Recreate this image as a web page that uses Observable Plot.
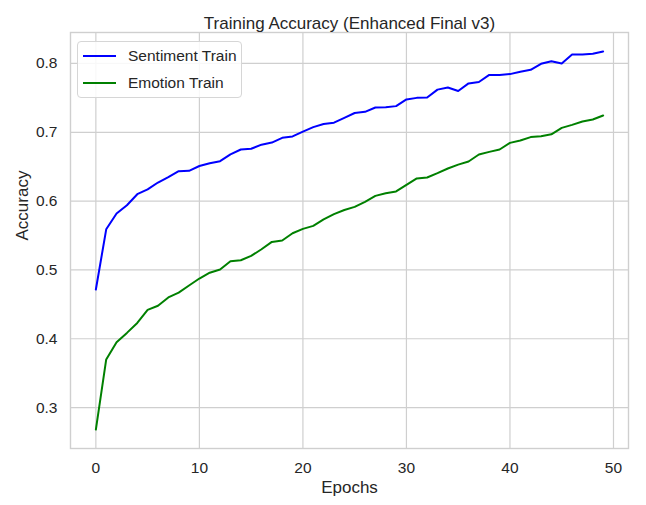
<!DOCTYPE html>
<html>
<head>
<meta charset="utf-8">
<script src="https://cdn.jsdelivr.net/npm/d3@7"></script>
<script src="https://cdn.jsdelivr.net/npm/@observablehq/plot@0.6"></script>
<style>
  html, body { margin: 0; padding: 0; background: white; }
  #wrap { position: relative; width: 646px; height: 505px; font-family: "Liberation Sans", Arial, sans-serif; }
  #legend { position: absolute; left: 77px; top: 41px; width: 165px; height: 57px;
    border: 1px solid #d6d6d6; border-radius: 4px; background: rgba(255,255,255,0.85);
    box-sizing: border-box; color: #262626; font-size: 15.5px; }
  .row { position: absolute; left: 5px; height: 20px; display: flex; align-items: center; }
  .sw { width: 33px; height: 0; border-top: 2px solid; margin-right: 12px; }
</style>
</head>
<body>
<div id="wrap"></div>
<script>
const title = "Training Accuracy (Enhanced Final v3)";
const xLabel = "Epochs";
const yLabel = "Accuracy";
const seriesNames = ["Sentiment Train", "Emotion Train"];
const seriesColors = ["#0000ff", "#008000"];
const xTicks = [0, 10, 20, 30, 40, 50];
const yTicks = [0.3, 0.4, 0.5, 0.6, 0.7, 0.8];

const sentimentTrain = [
  0.4715, 0.559, 0.582, 0.594, 0.610, 0.617, 0.627, 0.635, 0.6435, 0.644,
  0.651, 0.655, 0.658, 0.668, 0.675, 0.676, 0.682, 0.685, 0.692, 0.694,
  0.701, 0.7075, 0.712, 0.714, 0.721, 0.728, 0.7297, 0.736, 0.7365, 0.738,
  0.7477, 0.750, 0.7505, 0.762, 0.765, 0.760, 0.771, 0.773, 0.7834, 0.7834,
  0.7845, 0.788, 0.7907, 0.7995, 0.8033, 0.800, 0.813, 0.813, 0.814, 0.8175
];
const emotionTrain = [
  0.268, 0.370, 0.395, 0.4085, 0.423, 0.442, 0.448, 0.460, 0.467, 0.4773,
  0.4875, 0.496, 0.5006, 0.5127, 0.514, 0.5204, 0.530, 0.5407, 0.5427, 0.5533,
  0.5596, 0.564, 0.5733, 0.581, 0.587, 0.5916, 0.599, 0.6076, 0.6115, 0.614,
  0.6236, 0.633, 0.6343, 0.6406, 0.6474, 0.653, 0.6576, 0.6677, 0.6715, 0.675,
  0.6846, 0.688, 0.693, 0.6943, 0.697, 0.7064, 0.7108, 0.7157, 0.7186, 0.7244
];

const data = [];
sentimentTrain.forEach((v, i) => data.push({epoch: i, acc: v, series: seriesNames[0]}));
emotionTrain.forEach((v, i) => data.push({epoch: i, acc: v, series: seriesNames[1]}));

// matplotlib-like 5% margins
const xe = d3.extent(data, d => d.epoch), ye = d3.extent(data, d => d.acc);
const xm = (xe[1] - xe[0]) * 0.05, ym = (ye[1] - ye[0]) * 0.05;

const textColor = "#262626";
const chart = Plot.plot({
  width: 646, height: 505,
  marginLeft: 70, marginRight: 18, marginTop: 32, marginBottom: 57,
  style: {fontFamily: "'Liberation Sans', Arial, sans-serif", color: textColor, background: "white", overflow: "visible"},
  x: {domain: [xe[0] - xm, xe[1] + xm]},
  y: {domain: [ye[0] - ym, ye[1] + ym]},
  color: {domain: seriesNames, range: seriesColors},
  marks: [
    Plot.gridX(xTicks, {stroke: "#cfcfcf", strokeOpacity: 1, strokeWidth: 1.2}),
    Plot.gridY(yTicks, {stroke: "#cfcfcf", strokeOpacity: 1, strokeWidth: 1.2}),
    Plot.frame({stroke: "#cfcfcf", strokeWidth: 1.4}),
    Plot.axisX(xTicks, {tickSize: 0, tickPadding: 13, fontSize: 15.5, label: null, fill: textColor}),
    Plot.axisY(yTicks, {tickSize: 0, tickPadding: 13, fontSize: 15.5, label: null, tickFormat: d3.format(".1f"), fill: textColor}),
    Plot.line(data, {x: "epoch", y: "acc", z: "series", stroke: "series", strokeWidth: 2}),
    Plot.text([title], {frameAnchor: "top", dy: -16, fontSize: 17, fill: textColor}),
    Plot.text([xLabel], {frameAnchor: "bottom", dy: 44, fontSize: 17, fill: textColor}),
    Plot.text([yLabel], {frameAnchor: "left", dx: -48, rotate: -90, fontSize: 17, fill: textColor})
  ]
});
const wrap = document.getElementById("wrap");
wrap.appendChild(chart);

const legend = document.createElement("div");
legend.id = "legend";
seriesNames.forEach((name, i) => {
  const row = document.createElement("div");
  row.className = "row";
  row.style.top = (4 + i * 27) + "px";
  const sw = document.createElement("span");
  sw.className = "sw";
  sw.style.borderTopColor = seriesColors[i];
  const label = document.createElement("span");
  label.textContent = name;
  row.appendChild(sw);
  row.appendChild(label);
  legend.appendChild(row);
});
wrap.appendChild(legend);
</script>
</body>
</html>
